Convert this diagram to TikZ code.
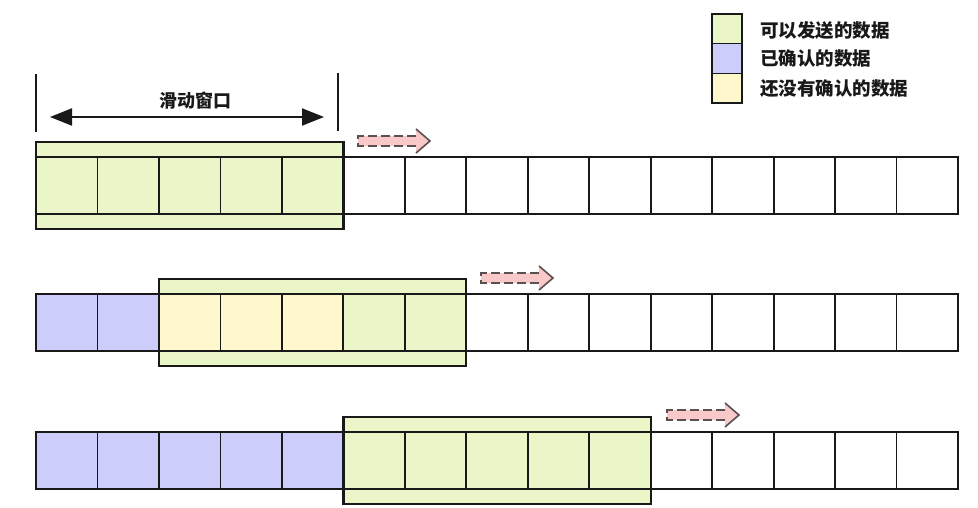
\documentclass[tikz,border=0pt]{standalone}
\usepackage{fontspec}
\newfontfamily\cjk{Noto Sans CJK SC}
\usetikzlibrary{arrows.meta}
\definecolor{sendgreen}{RGB}{234,246,200}
\definecolor{ackblue}{RGB}{205,205,252}
\definecolor{waityellow}{RGB}{255,248,204}
\definecolor{arrowpink}{RGB}{249,200,200}
\definecolor{dashgray}{RGB}{90,80,80}
\definecolor{inkblack}{RGB}{25,25,25}
\begin{document}
\begin{tikzpicture}[x=1pt,y=-1pt,
  cellbox/.style={draw=inkblack, line width=1.8pt, minimum width=61.47pt, minimum height=57pt, inner sep=0pt, outer sep=0pt, anchor=north west},
  winfill/.style={fill=sendgreen, minimum width=307.35pt, minimum height=87pt, inner sep=0pt, outer sep=0pt, anchor=north west},
  winborder/.style={draw=inkblack, line width=2.4pt},
  legbox/.style={draw=inkblack, line width=1.6pt, minimum width=30pt, minimum height=29.7pt, inner sep=0pt, outer sep=0pt, anchor=north west},
  legtext/.style={anchor=west, inner sep=0pt, text=inkblack, font=\cjk\bfseries\fontsize{18.5}{20}\selectfont},
  slidearrow/.pic={
    \fill[arrowpink] (0,-5) -- (58,-5) -- (58,-12) -- (72,0) -- (58,12) -- (58,5) -- (0,5) -- cycle;
    \draw[dashgray, line width=1.3pt, dash pattern=on 9pt off 4pt] (58,-5) -- (0,-5) -- (0,5) -- (58,5);
    \draw[dashgray, line width=1.6pt] (58,-12) -- (72,0) -- (58,12);
  }]
\useasboundingbox (0,0) rectangle (978,508);
\fill[white] (0,0) rectangle (978,508);

% legend
\node[legbox, fill=sendgreen] (legG) at (712,14) {};
\node[legbox, fill=ackblue, anchor=north] (legB) at (legG.south) {};
\node[legbox, fill=waityellow, anchor=north] (legY) at (legB.south) {};
\node[legtext] (legGt) at (760,30) {可以发送的数据};
\node[legtext] (legBt) at (760,59) {已确认的数据};
\node[legtext] (legYt) at (760,89) {还没有确认的数据};

% sliding window dimension
\coordinate (tl1) at (36,74);
\coordinate (tl2) at (36,132);
\coordinate (tr1) at (338,73);
\coordinate (tr2) at (338,131);
\draw[inkblack, line width=1.6pt] (tl1) -- (tl2);
\draw[inkblack, line width=1.6pt] (tr1) -- (tr2);
\coordinate (dl) at (50,117);
\coordinate (dr) at (324,117);
\draw[inkblack, line width=2pt, {Triangle[length=22pt,width=17pt]}-{Triangle[length=22pt,width=17pt]}] (dl) -- (dr);
\node[legtext, anchor=center, font=\cjk\bfseries\fontsize{18}{20}\selectfont] (lbl) at (195,101) {滑动窗口};

% row 1
\node[winfill] (win1) at (36,142) {};
\foreach \i in {0,...,4} \node[cellbox, fill=sendgreen] (ra\i) at ({36+61.47*\i},157) {};
\foreach \i in {5,...,14} \node[cellbox, fill=white] (ra\i) at ({36+61.47*\i},157) {};
\draw[winborder] (win1.north west) rectangle (win1.south east);
\pic at (358,141) {slidearrow};

% row 2
\node[winfill] (win2) at ({36+61.47*2},279) {};
\foreach \i in {0,1} \node[cellbox, fill=ackblue] (rb\i) at ({36+61.47*\i},294) {};
\foreach \i in {2,3,4} \node[cellbox, fill=waityellow] (rb\i) at ({36+61.47*\i},294) {};
\foreach \i in {5,6} \node[cellbox, fill=sendgreen] (rb\i) at ({36+61.47*\i},294) {};
\foreach \i in {7,...,14} \node[cellbox, fill=white] (rb\i) at ({36+61.47*\i},294) {};
\draw[winborder] (win2.north west) rectangle (win2.south east);
\pic at (481,278) {slidearrow};

% row 3
\node[winfill] (win3) at ({36+61.47*5},417) {};
\foreach \i in {0,...,4} \node[cellbox, fill=ackblue] (rc\i) at ({36+61.47*\i},432) {};
\foreach \i in {5,...,9} \node[cellbox, fill=sendgreen] (rc\i) at ({36+61.47*\i},432) {};
\foreach \i in {10,...,14} \node[cellbox, fill=white] (rc\i) at ({36+61.47*\i},432) {};
\draw[winborder] (win3.north west) rectangle (win3.south east);
\pic at (667,415) {slidearrow};
\end{tikzpicture}
\end{document}
